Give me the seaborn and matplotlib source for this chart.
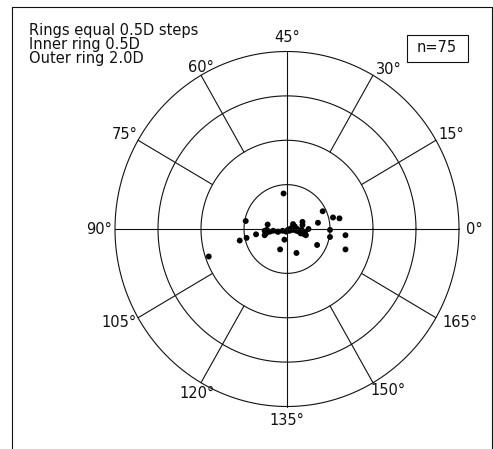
import numpy as np
import pandas as pd
import matplotlib
matplotlib.use("Agg")
import matplotlib.pyplot as plt
import seaborn as sns

# Doubled-angle astigmatism vectors (dioptres): horizontal and vertical components
kx = [-0.04, 0.415, 0.535, 0.61, -0.48, -0.225, 0.18, 0.18, 0.36, 0.07,
      0.50, 0.68, 0.68, 0.50, 0.35, 0.11, -0.08, -0.03, -0.55, -0.47,
      -0.36, -0.26, -0.245, -0.235, -0.26, -0.16, -0.11, -0.10, -0.01, 0.01,
      0.035, 0.07, 0.11, 0.14, 0.17, 0.21, 0.22, 0.25, 0.20, -0.91,
      0.03, 0.05, -0.05, 0.12, 0.16, -0.20, -0.24, 0.09]
ky = [0.40, 0.20, 0.13, 0.12, 0.09, 0.05, 0.08, 0.045, 0.07, 0.055,
      -0.01, -0.07, -0.23, -0.09, -0.18, -0.27, -0.23, -0.12, -0.13, -0.10,
      -0.06, -0.07, -0.05, -0.01, -0.02, -0.02, -0.03, -0.03, -0.03, -0.01,
      0.0, -0.01, -0.02, -0.03, -0.01, -0.04, -0.07, 0.0, -0.06, -0.31,
      -0.02, 0.01, -0.02, 0.0, -0.05, -0.03, -0.04, 0.03]

ring_radii = [0.5, 1.0, 1.5, 2.0]
axis_labels = [0, 15, 30, 45, 60, 75, 90, 105, 120, 135, 150, 165]
notes = ["Rings equal 0.5D steps", "Inner ring 0.5D", "Outer ring 2.0D"]
n_label = "n=75"

sns.set_theme(style="white")
plt.rcParams["font.family"] = ["DejaVu Sans"]

fig = plt.figure(figsize=(4.93, 4.49), dpi=100)
ax = fig.add_axes([0, 0, 1, 1])
ax.set_xlim(-287 / 86, (493 - 287) / 86)
ax.set_ylim(-(449 - 229) / 88.75, 229 / 88.75)
ax.axis("off")

lc = "#111111"
lw = 0.8
t = np.linspace(0, 2 * np.pi, 400)
for r in ring_radii:
    ax.plot(r * np.cos(t), r * np.sin(t), color=lc, lw=lw)

# full horizontal and vertical axes
R = ring_radii[-1]
ax.plot([-R, R], [0, 0], color=lc, lw=lw)
ax.plot([0, 0], [-R, R], color=lc, lw=lw)

# spokes between the 1.0D and outer rings
for a in axis_labels:
    th = np.deg2rad(2 * a)
    if (2 * a) % 90 == 0:
        continue
    ax.plot([ring_radii[1] * np.cos(th), R * np.cos(th)],
            [ring_radii[1] * np.sin(th), R * np.sin(th)], color=lc, lw=lw)

# axis labels placed around the outer ring (doubled angle)
fs = 10.5
for a in axis_labels:
    d = 2 * a
    th = np.deg2rad(d)
    x, y = R * np.cos(th), R * np.sin(th)
    if d == 0:
        ha, va, dx, dy = "left", "center", 0.08, 0
    elif d == 180:
        ha, va, dx, dy = "right", "center", -0.04, 0
    elif d == 90:
        ha, va, dx, dy = "center", "bottom", 0, 0.07
    elif d == 270:
        ha, va, dx, dy = "center", "top", 0, -0.07
    elif d in (30, 60):
        ha, va, dx, dy = "left", "bottom", 0.03, -0.02
    elif d == 120:
        ha, va, dx, dy = "center", "bottom", 0.0, 0.0
    elif d == 150:
        ha, va, dx, dy = "right", "bottom", 0.0, -0.02
    elif d == 210:
        ha, va, dx, dy = "right", "center", -0.02, -0.05
    elif d == 240:
        ha, va, dx, dy = "center", "top", -0.05, -0.04
    elif d == 300:
        ha, va, dx, dy = "left", "top", -0.03, 0.0
    else:
        ha, va, dx, dy = "left", "center", 0.07, -0.05
    ax.text(x + dx, y + dy, f"{a}°", ha=ha, va=va, fontsize=fs, color=lc)

df = pd.DataFrame({"x": kx, "y": ky})
sns.scatterplot(data=df, x="x", y="y", ax=ax, color="black", s=18,
                edgecolor="none", legend=False)

# notes at top left
for i, line in enumerate(notes):
    fig.text(29 / 493, 1 - (35 + 14 * i) / 449, line, fontsize=fs,
             color=lc, ha="left", va="baseline")

# sample-size box
fig.text(437 / 493, 1 - 48 / 449, n_label, fontsize=fs, color=lc,
         ha="center", va="center")
fig.add_artist(plt.Rectangle((407 / 493, 1 - 62 / 449), 61 / 493, 27 / 449,
                             transform=fig.transFigure, fill=False,
                             edgecolor=lc, lw=lw))

# outer frame (left, top, right)
fig.add_artist(plt.Line2D([12 / 493, 12 / 493, 491.5 / 493, 491.5 / 493],
                          [0, 1 - 7 / 449, 1 - 7 / 449, 0],
                          transform=fig.transFigure, color=lc, lw=lw))

fig.savefig("out.png", dpi=100, facecolor="white")
